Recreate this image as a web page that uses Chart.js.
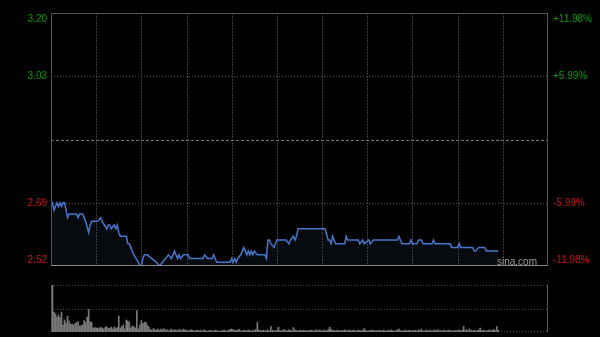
<!DOCTYPE html>
<html>
<head>
<meta charset="utf-8">
<script src="https://cdn.jsdelivr.net/npm/chart.js@4/dist/chart.umd.min.js"></script>
<style>
  body { margin: 0; background: #000; }
  #wrap { position: relative; width: 600px; height: 337px; background: #000; }
  canvas { position: absolute; left: 0; }
  #price { top: 0; }
  #vol { top: 272px; }
</style>
</head>
<body>
<div id="wrap">
  <canvas id="price" width="600" height="272"></canvas>
  <canvas id="vol" width="600" height="65"></canvas>
</div>
<script>
// session minutes since open (330 minute day), price where it changes
var minutes = [0, 1, 2, 3, 4, 5, 6, 7, 8, 9, 11, 12, 17, 18, 19, 21, 22, 23, 25, 26,
  27, 31, 33, 34, 37, 38, 39, 40, 42, 43, 44, 45, 46, 50, 51, 52, 53, 55, 58, 59,
  60, 61, 62, 64, 67, 70, 72, 74, 76, 78, 80, 82, 83, 84, 85, 86, 88, 91, 92, 101,
  102, 104, 107, 108, 110, 119, 120, 121, 122, 123, 124, 126, 128, 129, 130, 131, 132, 133, 134, 135,
  137, 142, 143, 144, 145, 146, 148, 149, 150, 156, 158, 159, 161, 162, 163, 164, 182, 184, 185, 186,
  187, 189, 195, 196, 197, 204, 205, 207, 208, 211, 212, 214, 230, 231, 233, 238, 239, 240, 243, 244,
  246, 247, 253, 254, 255, 265, 266, 270, 271, 272, 280, 281, 282, 284, 288, 289, 297];
var prices = [2.69, 2.69, 2.67, 2.68, 2.69, 2.68, 2.69, 2.68, 2.69, 2.69, 2.65, 2.66, 2.66, 2.65, 2.66, 2.66, 2.65, 2.64, 2.61, 2.63,
  2.64, 2.64, 2.65, 2.64, 2.62, 2.63, 2.63, 2.62, 2.63, 2.62, 2.63, 2.61, 2.60, 2.60, 2.58, 2.58, 2.57, 2.55, 2.53, 2.52,
  2.52, 2.54, 2.55, 2.55, 2.54, 2.53, 2.52, 2.53, 2.54, 2.55, 2.54, 2.56, 2.55, 2.54, 2.55, 2.54, 2.55, 2.55, 2.54, 2.54,
  2.55, 2.54, 2.54, 2.55, 2.53, 2.53, 2.54, 2.53, 2.54, 2.53, 2.54, 2.55, 2.57, 2.56, 2.55, 2.56, 2.55, 2.56, 2.55, 2.56,
  2.55, 2.55, 2.54, 2.59, 2.59, 2.58, 2.57, 2.58, 2.59, 2.59, 2.58, 2.59, 2.60, 2.59, 2.60, 2.62, 2.62, 2.59, 2.59, 2.58,
  2.60, 2.58, 2.58, 2.60, 2.59, 2.59, 2.58, 2.59, 2.58, 2.59, 2.58, 2.59, 2.59, 2.60, 2.58, 2.58, 2.59, 2.58, 2.58, 2.59,
  2.59, 2.58, 2.58, 2.59, 2.58, 2.58, 2.57, 2.57, 2.58, 2.57, 2.57, 2.56, 2.56, 2.57, 2.57, 2.56, 2.56];

// one bar per minute
var volumes = [
  300, 470, 200, 180, 150, 170, 145, 200, 70, 120,
  90, 160, 110, 80, 80, 70, 85, 95, 105, 60,
  65, 70, 115, 95, 150, 225, 105, 95, 40, 45,
  38, 42, 35, 50, 40, 30, 45, 55, 35, 40,
  48, 30, 52, 38, 45, 160, 40, 55, 70, 30,
  120, 110, 100, 40, 60, 55, 40, 215, 30, 70,
  115, 85, 95, 100, 70, 48, 25, 20, 35, 18,
  22, 30, 15, 28, 20, 35, 18, 25, 12, 20,
  30, 15, 22, 18, 12, 25, 20, 15, 28, 18,
  20, 12, 15, 25, 18, 10, 15, 20, 12, 18,
  10, 15, 22, 12, 8, 15, 18, 10, 12, 20,
  15, 10, 8, 12, 15, 20, 10, 12, 18, 25,
  30, 22, 18, 15, 20, 28, 12, 10, 18, 15,
  12, 20, 15, 10, 18, 12, 25, 95, 20, 15,
  12, 18, 10, 15, 22, 12, 55, 18, 15, 10,
  20, 48, 15, 12, 18, 25, 10, 15, 22, 18,
  12, 45, 20, 15, 10, 18, 12, 15, 20, 10,
  15, 12, 20, 18, 10, 15, 22, 12, 18, 15,
  10, 20, 15, 12, 25, 48, 30, 18, 15, 12,
  20, 15, 10, 18, 12, 22, 15, 10, 20, 12,
  15, 18, 10, 12, 20, 15, 12, 18, 35, 15,
  10, 12, 18, 15, 20, 10, 15, 12, 18, 10,
  15, 20, 12, 10, 18, 15, 22, 12, 10, 15,
  20, 28, 12, 15, 10, 18, 12, 15, 20, 10,
  15, 12, 18, 10, 22, 15, 30, 12, 10, 18,
  15, 12, 20, 10, 15, 18, 12, 25, 10, 15,
  12, 18, 10, 15, 20, 12, 15, 10, 18, 12,
  15, 20, 12, 18, 55, 15, 25, 12, 30, 15,
  10, 18, 12, 15, 20, 40, 12, 18, 15, 10,
  15, 20, 12, 18, 25, 15, 55, 20];

var priceTicks = [3.20, 3.03, 2.86, 2.69, 2.52];
var pctTicks = ['+11.98%', '+5.99%', '', '-5.99%', '-11.98%'];
var tickColors = ['#079b07', '#079b07', '#888888', '#cc1111', '#cc1111'];
var timeGrid = [30, 60, 90, 120, 150, 180, 210, 240, 270, 300];
var dayMinutes = 330;
var volMax = 470;

var FONT = '10px Arial, "Liberation Sans", sans-serif';

function hline(ctx, x1, x2, y) {
  ctx.beginPath(); ctx.moveTo(x1, y); ctx.lineTo(x2, y); ctx.stroke();
}
function vline(ctx, x, y1, y2) {
  ctx.beginPath(); ctx.moveTo(x, y1); ctx.lineTo(x, y2); ctx.stroke();
}

var priceFrame = {
  id: 'priceFrame',
  beforeDatasetsDraw: function(chart) {
    var ctx = chart.ctx, a = chart.chartArea;
    var xs = chart.scales.x, ys = chart.scales.y;
    ctx.save();
    ctx.lineWidth = 1;
    ctx.strokeStyle = '#3a3a3a';
    ctx.setLineDash([2, 1]);
    timeGrid.forEach(function(m) {
      var px = Math.round(xs.getPixelForValue(m)) + 0.5;
      vline(ctx, px, a.top, a.bottom);
    });
    priceTicks.forEach(function(p, i) {
      if (i === 0 || i === priceTicks.length - 1) return;
      var py = Math.round(ys.getPixelForValue(p)) + 0.5;
      if (i === 2) {
        ctx.strokeStyle = '#777';
        ctx.setLineDash([3, 2]);
      } else {
        ctx.strokeStyle = '#555';
        ctx.setLineDash([1, 2]);
      }
      hline(ctx, a.left, a.right, py);
    });
    ctx.restore();
  },
  afterDatasetsDraw: function(chart) {
    var ctx = chart.ctx, a = chart.chartArea;
    var ys = chart.scales.y;
    ctx.save();
    ctx.lineWidth = 1;
    ctx.setLineDash([]);
    ctx.strokeStyle = '#555';
    hline(ctx, a.left, a.right, Math.round(a.top) + 0.5);
    vline(ctx, Math.round(a.left) + 0.5, a.top, a.bottom);
    vline(ctx, Math.round(a.right) - 0.5, a.top, a.bottom);
    ctx.strokeStyle = '#888';
    hline(ctx, a.left, a.right, Math.round(a.bottom) - 0.5);

    ctx.font = FONT;
    ctx.textBaseline = 'middle';
    priceTicks.forEach(function(p, i) {
      var py = ys.getPixelForValue(p);
      py = Math.max(a.top + 6, Math.min(a.bottom - 6, py));
      if (i === 2) return;
      ctx.fillStyle = tickColors[i];
      ctx.textAlign = 'right';
      ctx.fillText(p.toFixed(2), a.left - 4, py);
      ctx.textAlign = 'left';
      ctx.fillText(pctTicks[i], a.right + 5, py);
    });

    ctx.fillStyle = '#9a9a9a';
    ctx.textAlign = 'right';
    ctx.textBaseline = 'alphabetic';
    ctx.fillText('sina.com', a.right - 11, a.bottom - 1);
    ctx.restore();
  }
};

var volFrame = {
  id: 'volFrame',
  beforeDatasetsDraw: function(chart) {
    var ctx = chart.ctx, a = chart.chartArea;
    var ys = chart.scales.y;
    ctx.save();
    ctx.lineWidth = 1;
    ctx.strokeStyle = '#555';
    ctx.setLineDash([1, 2]);
    [volMax, volMax / 2, 0].forEach(function(v) {
      var py = Math.round(ys.getPixelForValue(v)) + 0.5;
      if (v === 0) py -= 1;
      hline(ctx, a.left, a.right, py);
    });
    ctx.restore();
  },
  afterDatasetsDraw: function(chart) {
    var ctx = chart.ctx, a = chart.chartArea;
    ctx.save();
    ctx.lineWidth = 1;
    ctx.strokeStyle = '#555';
    vline(ctx, Math.round(a.left) + 0.5, a.top, a.bottom);
    vline(ctx, Math.round(a.right) - 0.5, a.top, a.bottom);
    ctx.restore();
  }
};

var pricePoints = minutes.map(function(m, i) { return {x: m, y: prices[i]}; });
var volPoints = volumes.map(function(v, i) { return {x: i, y: v}; });

new Chart(document.getElementById('price').getContext('2d'), {
  type: 'line',
  data: {
    datasets: [{
      data: pricePoints,
      borderColor: '#4677cc',
      borderWidth: 1.5,
      backgroundColor: 'rgba(70, 100, 150, 0.10)',
      fill: 'start',
      pointRadius: 0,
      tension: 0
    }]
  },
  options: {
    responsive: false,
    animation: false,
    layout: {padding: {left: 51, right: 52, top: 13, bottom: 6}},
    plugins: {legend: {display: false}, tooltip: {enabled: false}},
    scales: {
      x: {type: 'linear', display: false, min: 0, max: dayMinutes},
      y: {type: 'linear', display: false, min: priceTicks[priceTicks.length - 1], max: priceTicks[0]}
    }
  },
  plugins: [priceFrame]
});

new Chart(document.getElementById('vol').getContext('2d'), {
  type: 'bar',
  data: {
    datasets: [{
      data: volPoints,
      backgroundColor: '#7a7a7a',
      barThickness: 1,
      borderWidth: 0
    }]
  },
  options: {
    responsive: false,
    animation: false,
    layout: {padding: {left: 51, right: 52, top: 13, bottom: 5}},
    plugins: {legend: {display: false}, tooltip: {enabled: false}},
    scales: {
      x: {type: 'linear', display: false, min: 0, max: dayMinutes, offset: false},
      y: {type: 'linear', display: false, min: 0, max: volMax}
    }
  },
  plugins: [volFrame]
});
</script>
</body>
</html>
